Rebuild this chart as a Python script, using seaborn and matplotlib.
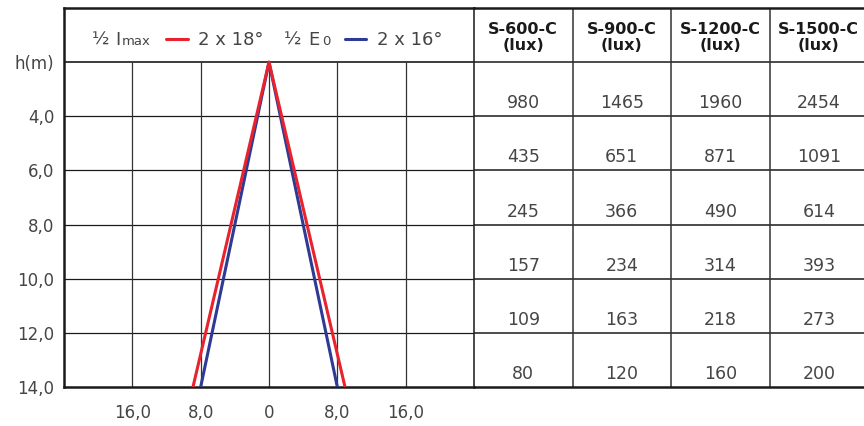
import numpy as np
import pandas as pd
import matplotlib
matplotlib.use("Agg")
import matplotlib.pyplot as plt
import seaborn as sns

# Daten
heights = [2, 4, 6, 8, 10, 12, 14]
h_labels = ['h(m)', '4,0', '6,0', '8,0', '10,0', '12,0', '14,0']
x_ticks = [-16, -8, 0, 8, 16]
x_labels = ['16,0', '8,0', '0', '8,0', '16,0']

# Lichtkegel: halbe Breite am Boden (h = 14)
apex_h = 2
floor_h = 14
imax_half = 8.9   # 1/2 Imax, 2 x 18°
e0_half = 8.0     # 1/2 E0, 2 x 16°

models = ['S-600-C', 'S-900-C', 'S-1200-C', 'S-1500-C']
s600 = [980, 435, 245, 157, 109, 80]
s900 = [1465, 651, 366, 234, 163, 120]
s1200 = [1960, 871, 490, 314, 218, 160]
s1500 = [2454, 1091, 614, 393, 273, 200]

RED = '#e8232d'
BLUE = '#2e3a94'
TXT = '#454545'
LINE = '#1a1a1a'

sns.set_theme(style='white')
plt.rcParams['font.family'] = ['DejaVu Sans']

W, H = 864, 426
fig = plt.figure(figsize=(W / 100, H / 100), dpi=100)

def fx(px):
    return px / W

def fy(py):
    return 1 - py / H

ax = fig.add_axes([fx(64), fy(387), 410 / W, 379 / H])
tab = fig.add_axes([fx(474), fy(387), 394 / W, 379 / H])
tab.patch.set_visible(False)

# Kegel zeichnen
cone = pd.DataFrame({
    'x': [-e0_half, 0, e0_half, -imax_half, 0, imax_half],
    'h': [floor_h, apex_h, floor_h] * 2,
    'serie': ['E0'] * 3 + ['Imax'] * 3,
})
ax.hlines([4, 6, 8, 10, 12], -24, 24, color=LINE, lw=0.9, zorder=1)
ax.hlines([2], -24, 24, color=LINE, lw=1.2, zorder=1)
ax.vlines(x_ticks, 2, 14, color='#333333', lw=0.9, zorder=1)
sns.lineplot(data=cone, x='x', y='h', hue='serie', palette={'E0': BLUE, 'Imax': RED},
             hue_order=['E0', 'Imax'], sort=False, estimator=None, units='serie',
             lw=2.2, legend=False, ax=ax, zorder=3)
ax.set_xlim(-24, 24)
ax.set_ylim(14, 0)
ax.set_xticks(x_ticks)
ax.set_xticklabels(x_labels)
ax.set_yticks(heights)
ax.set_yticklabels(h_labels)
ax.set_xlabel('')
ax.set_ylabel('')
ax.tick_params(axis='both', length=0, labelsize=12, colors=TXT)
ax.tick_params(axis='y', pad=7)
ax.tick_params(axis='x', pad=12)
for side in ['left', 'top', 'bottom']:
    ax.spines[side].set_linewidth(1.8)
    ax.spines[side].set_color(LINE)
ax.spines['right'].set_linewidth(1.2)
ax.spines['right'].set_color('#2a2a2a')

# Legende im Kopf
by = fy(45)
fig.text(fx(92), by, '½', fontsize=13, color=TXT, va='baseline')
fig.text(fx(115), by, 'I', fontsize=13, color=TXT, va='baseline')
fig.text(fx(122), by, 'max', fontsize=9.5, color=TXT, va='baseline')
fig.add_artist(plt.Line2D([fx(166), fx(188)], [fy(39), fy(39)], color=RED, lw=2.2))
fig.text(fx(198), by, '2 x 18°', fontsize=13, color=TXT, va='baseline')
fig.text(fx(284), by, '½', fontsize=13, color=TXT, va='baseline')
fig.text(fx(308), by, 'E', fontsize=13, color=TXT, va='baseline')
fig.text(fx(322), by, '0', fontsize=9.5, color=TXT, va='baseline')
fig.add_artist(plt.Line2D([fx(345), fx(366)], [fy(39), fy(39)], color=BLUE, lw=2.2))
fig.text(fx(377), by, '2 x 16°', fontsize=13, color=TXT, va='baseline')

# Tabelle
table = pd.DataFrame({m: v for m, v in zip(models, [s600, s900, s1200, s1500])})
tab.set_xlim(0, 4)
tab.set_ylim(7, 0)
tab.hlines(range(1, 7), 0, 4, color=LINE, lw=1.1)
tab.vlines([1, 2, 3], 0, 7, color='#333333', lw=1.1)
for j, m in enumerate(table.columns):
    tab.text(j + 0.5, 0.55, m + '\n(lux)', ha='center', va='center', fontsize=11.5,
             fontweight='bold', color='#1a1a1a', linespacing=1.1)
    for i, v in enumerate(table[m]):
        tab.text(j + 0.5, i + 1.76, str(v), ha='center', va='center', fontsize=12.5, color=TXT)
tab.set_xticks([])
tab.set_yticks([])
for side in ['top', 'bottom']:
    tab.spines[side].set_linewidth(1.8)
    tab.spines[side].set_color(LINE)
tab.spines['left'].set_visible(False)
tab.spines['right'].set_visible(False)

fig.savefig('out.png', dpi=100)
